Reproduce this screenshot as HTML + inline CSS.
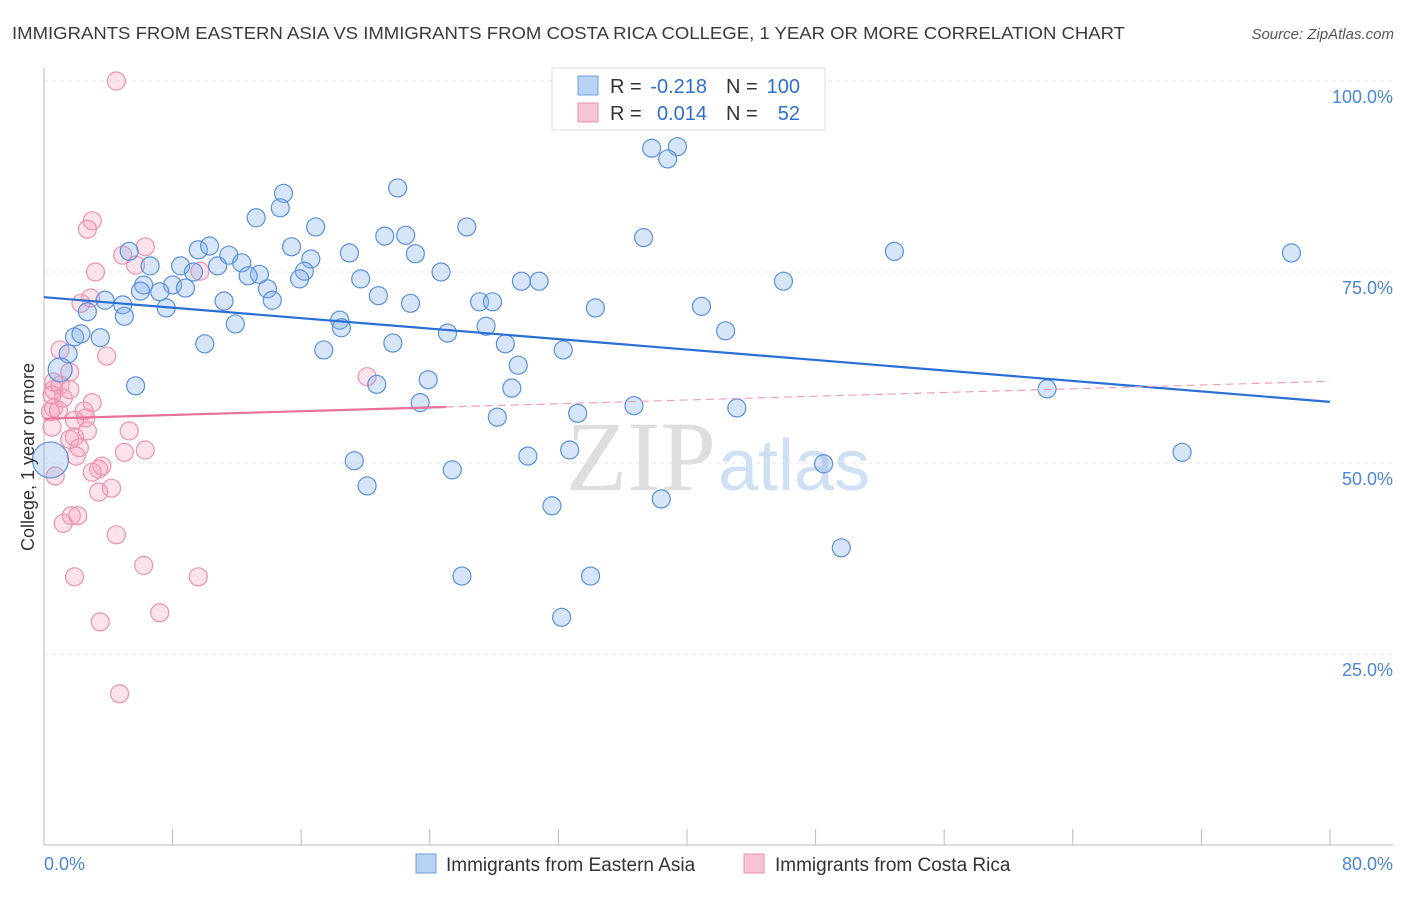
<!DOCTYPE html>
<html><head><meta charset="utf-8"><style>
body{margin:0;background:#fff;font-family:"Liberation Sans",sans-serif;}
</style></head><body>
<svg width="1406" height="892" viewBox="0 0 1406 892" xmlns="http://www.w3.org/2000/svg">
<text x="12" y="39" font-size="17.5" fill="#3a3a3a" textLength="1113" lengthAdjust="spacingAndGlyphs">IMMIGRANTS FROM EASTERN ASIA VS IMMIGRANTS FROM COSTA RICA COLLEGE, 1 YEAR OR MORE CORRELATION CHART</text>
<text x="1394" y="39" font-size="15" fill="#555" text-anchor="end" font-style="italic">Source: ZipAtlas.com</text>
<g id="grid"></g>
<text x="716" y="490" font-size="100" fill="#dedede" text-anchor="end" font-family="Liberation Serif,serif">ZIP</text>
<text x="718" y="490" font-size="72" fill="#cfe0f5">atlas</text>
<g id="pts"></g>
<g id="lines"></g>
<text transform="translate(34,457) rotate(-90)" font-size="18" fill="#333" text-anchor="middle">College, 1 year or more</text>
<g>
<rect x="552" y="68" width="273" height="62" fill="#fff" stroke="#ddd"/>
<rect x="578" y="76" width="20" height="19" fill="#b9d3f5" stroke="#6f9ee0"/>
<rect x="578" y="103" width="20" height="19" fill="#f8c5d5" stroke="#e890ab"/>
<text x="610" y="93" font-size="20" fill="#333">R =</text>
<text x="707" y="93" font-size="20" fill="#2f6fd0" text-anchor="end">-0.218</text>
<text x="726" y="93" font-size="20" fill="#333">N =</text>
<text x="800" y="93" font-size="20" fill="#2f6fd0" text-anchor="end">100</text>
<text x="610" y="120" font-size="20" fill="#333">R =</text>
<text x="707" y="120" font-size="20" fill="#2f6fd0" text-anchor="end">0.014</text>
<text x="726" y="120" font-size="20" fill="#333">N =</text>
<text x="800" y="120" font-size="20" fill="#2f6fd0" text-anchor="end">52</text>
</g>
<g>
<rect x="416" y="854" width="20" height="19" fill="#b9d3f5" stroke="#6f9ee0"/>
<text x="446" y="871" font-size="19" fill="#333">Immigrants from Eastern Asia</text>
<rect x="744" y="854" width="20" height="19" fill="#f8c5d5" stroke="#e890ab"/>
<text x="775" y="871" font-size="19" fill="#333">Immigrants from Costa Rica</text>
</g>
</svg>
<script>
const yTicks=[25,50,75,100];
const yTickLabels=["25.0%","50.0%","75.0%","100.0%"];
const xTicks=[0,8,16,24,32,40,48,56,64,72,80];
const blueX=[37.8,39.4,38.8,22.0,14.9,14.7,13.2,16.9,26.3,21.2,22.5,37.3,15.4,5.3,9.6,10.3,11.5,19.0,52.9,77.6,23.1,16.6,6.6,8.5,12.3,10.8,9.3,13.4,16.2,12.7,19.7,24.7,15.9,29.7,30.8,46.0,6.2,8.0,8.8,7.2,6.0,13.9,20.8,11.2,14.2,22.8,27.1,27.9,34.3,40.9,4.9,3.8,2.7,7.6,5.0,18.4,11.9,27.5,25.1,42.4,1.9,2.3,3.5,18.5,10.0,21.7,28.7,32.3,17.4,1.5,29.5,23.9,20.7,5.7,29.1,23.4,36.7,43.1,33.2,28.2,62.4,32.7,70.8,19.3,30.1,48.5,25.4,20.1,38.4,31.6,49.6,26.0,34.0,32.2,1.0,0.4];
const blueY=[91.2,91.4,89.8,86.0,85.3,83.4,82.1,80.9,80.9,79.7,79.8,79.5,78.3,77.7,77.9,78.4,77.2,77.5,77.7,77.5,77.4,76.7,75.8,75.8,76.2,75.8,75.0,74.7,75.1,74.5,74.1,75.0,74.1,73.8,73.8,73.8,73.3,73.3,72.9,72.4,72.5,72.8,71.9,71.2,71.3,70.9,71.1,71.1,70.3,70.5,70.7,71.3,69.8,70.3,69.2,68.7,68.2,67.9,67.0,67.3,66.5,66.9,66.4,67.7,65.6,65.7,65.6,64.8,64.8,64.3,62.8,60.9,60.3,60.1,59.8,57.9,57.5,57.2,56.5,56.0,59.7,51.7,51.4,50.3,50.9,49.9,49.1,47.0,45.3,44.4,38.9,35.2,35.2,29.8,62.2,50.4];
const pinkX=[4.5,3.0,2.7,6.3,4.9,3.2,5.7,9.7,2.9,2.3,3.9,1.0,1.6,20.1,0.6,1.0,1.6,1.2,3.0,0.6,0.4,0.9,2.5,2.6,0.5,1.9,5.3,2.7,1.6,1.9,2.2,6.3,5.0,3.6,3.4,2.0,3.0,0.7,4.2,3.4,1.7,2.1,1.2,4.5,6.2,1.9,9.6,7.2,3.5,4.7,0.6,0.5];
const pinkY=[100,81.7,80.6,78.3,77.2,75.0,75.9,75.1,71.6,70.9,64.0,64.8,61.9,61.3,59.6,60.2,59.6,58.5,57.9,57.2,56.7,56.9,56.8,55.9,54.7,55.6,54.2,54.2,53.1,53.4,52.0,51.7,51.4,49.6,49.2,50.9,48.8,48.3,46.7,46.2,43.1,43.1,42.1,40.6,36.6,35.1,35.1,30.4,29.2,19.8,60.6,58.9];
const blueTrend=[71.7,58.0];
const pinkTrend=[55.8,60.7];
const X0=44,X1=1330,Y0=845,Y100=81;
const sx=v=>X0+(v/80)*(X1-X0);
const sy=v=>Y0-(v/100)*(Y0-Y100);
const NS="http://www.w3.org/2000/svg";
function mk(tag,attrs,parent){const e=document.createElementNS(NS,tag);for(const k in attrs)e.setAttribute(k,attrs[k]);parent.appendChild(e);return e;}
const grid=document.getElementById('grid');
yTicks.forEach((t,i)=>{
 const l=mk('line',{x1:44,x2:1393,y1:sy(t),y2:sy(t),stroke:'#e4e4e4','stroke-dasharray':'4,4'},grid);
 
 
 const tx=mk('text',{x:1393,y:sy(t)+22,'font-size':18,fill:'#4a86d8','text-anchor':'end'},grid);
 tx.textContent=yTickLabels[i];
 
 
});
const ax=mk('line',{x1:44,x2:44,y1:68,y2:845,stroke:'#bbb'},grid);


const bx=mk('line',{x1:44,x2:1393,y1:845,y2:845,stroke:'#bbb'},grid);


xTicks.forEach(t=>{
 const l=mk('line',{x1:sx(t),x2:sx(t),y1:829,y2:845,stroke:'#bbb'},grid);
 
 
});
const xl0=mk('text',{x:44,y:870,'font-size':18,fill:'#4a86d8'},grid);xl0.textContent='0.0%';


const xl1=mk('text',{x:1393,y:870,'font-size':18,fill:'#4a86d8','text-anchor':'end'},grid);xl1.textContent='80.0%';


const pts=document.getElementById('pts');
pinkX.forEach((x,i)=>{
 const c=mk('circle',{cx:sx(x),cy:sy(pinkY[i]),r:9,fill:'rgba(244,160,188,0.3)',stroke:'#ea93b0','stroke-width':1.2},pts);
 
 
});
blueX.forEach((x,i)=>{
 const r=i===blueX.length-1?18:(i===blueX.length-2?12:9);
 const c=mk('circle',{cx:sx(x),cy:sy(blueY[i]),r:r,fill:'rgba(130,175,235,0.33)',stroke:'#5b90db','stroke-width':1.2},pts);
 
 
});
const lines=document.getElementById('lines');
const bl=mk('line',{x1:sx(0),y1:sy(blueTrend[0]),x2:sx(80),y2:sy(blueTrend[1]),stroke:'#2a6fd6','stroke-width':2.2},lines);


const pAt=x=>pinkTrend[0]+(pinkTrend[1]-pinkTrend[0])*x/80;
const pl=mk('line',{x1:sx(0),y1:sy(pAt(0)),x2:sx(25),y2:sy(pAt(25)),stroke:'#e8709a','stroke-width':2.2},lines);


const pd=mk('line',{x1:sx(25),y1:sy(pAt(25)),x2:sx(80),y2:sy(pAt(80)),stroke:'#eea0b8','stroke-width':1.2,'stroke-dasharray':'8,5'},lines);


</script>
</body></html>
